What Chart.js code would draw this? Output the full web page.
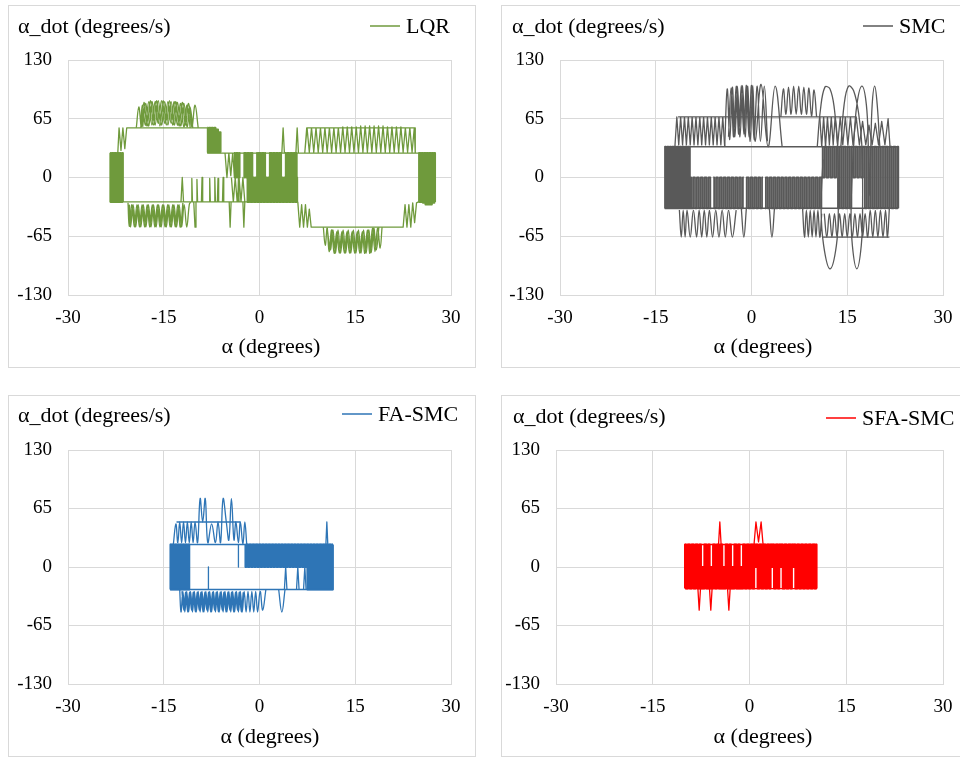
<!DOCTYPE html>
<html>
<head>
<meta charset="utf-8">
<script src="https://cdn.jsdelivr.net/npm/chart.js@4.4.1/dist/chart.umd.min.js"></script>
<style>
  html, body { margin: 0; padding: 0; background: #fff; width: 960px; height: 758px; overflow: hidden; position: relative; }
  canvas { position: absolute; }
</style>
</head>
<body>
<canvas id="lqr"></canvas>
<canvas id="smc"></canvas>
<canvas id="fasmc"></canvas>
<canvas id="sfasmc"></canvas>
<script>
// axis ticks and captions shared by the four phase portraits
const xTickValues = [-30, -15, 0, 15, 30];
const yTickValues = [-130, -65, 0, 65, 130];
const xCaption = 'α (degrees)';
const yCaption = 'α_dot (degrees/s)';

// trajectories, [alpha, alpha_dot]; null breaks the line.
// *Trace = straight strokes, *Waves = rounded oscillations, *Blocks = dense chattering (drawn stepped)
const lqrTrace = [
  [6.0,-27],[-23.4,-27],[-23.4,27],[-22.2,27],[-22.0,55],[-21.7,30],[-21.4,55],[-21.1,32],[-20.8,55],[-8.2,55], null,
  [-8.2,27],[27.5,27], null,
  [-12.3,-27],[-12.1,0],[-11.9,-27],[-10.7,-27],[-10.6,-1],[-10.5,-27],[-10.3,-27],[-10.1,-55],[-9.95,-27],[-9.9,-27],[-9.8,-2],[-9.7,-27],
  [-9.1,-27],[-9.0,0],[-8.9,-27],[-7.9,-27],[-7.8,-1],[-7.7,-27],[-7.1,-27],[-7.0,0],[-6.9,-27],[-6.6,-27],[-6.5,-1],[-6.4,-27],
  [-5.8,-27],[-5.7,0],[-5.6,-27],[-4.75,-27],[-4.6,-55],[-4.45,-27],[-3.4,-27],[-3.3,0],[-3.2,-27],[-2.6,-27],[-2.45,-55],[-2.3,-27], null,
  [-5.4,27],[-5.1,0],[-4.8,27],[-4.5,2],[-4.2,27],[-3.9,0], null,
  [-4.4,0],[-4.1,-27],[-3.8,0],[-3.5,-27],[-3.2,0],[-2.9,-27],[-2.6,0],[-2.3,-27], null,
  [6.0,-27],[6.3,-55],[6.6,-30],[6.9,-55],[7.2,-30],[7.5,-55],[7.8,-35],[8.1,-55],[22.5,-55],[22.8,-30],[23.1,-55],[23.4,-30],[23.7,-55],[24.0,-28],[24.3,-50],[24.6,-28],[24.9,-27],[27.5,-27], null,
  [24.4,27],[24.4,55],[7.4,55],[7.1,28],
  [7.45,55],[7.8,28],[8.15,55],[8.5,28],[8.85,55],[9.2,28],[9.55,55],[9.9,28],[10.25,55],[10.6,28],[10.95,55],[11.3,28],[11.65,55],[12.0,28],[12.35,55],[12.7,28],[13.05,56],[13.4,28],[13.75,56],[14.1,28],
  [14.45,56],[14.8,28],[15.15,56],[15.5,28],[15.85,57],[16.2,28],[16.55,57],[16.9,28],[17.25,57],[17.6,28],[17.95,57],[18.3,28],[18.65,57],[19.0,28],[19.35,57],[19.7,28],[20.05,56],[20.4,28],
  [20.75,56],[21.1,28],[21.45,56],[21.8,28],[22.15,56],[22.5,28],[22.85,55],[23.2,28],[23.55,55],[23.9,28],[24.25,55],[24.4,27], null,
  [6.1,27],[5.9,55],[5.7,27], null, [3.9,27],[3.7,55],[3.5,27]
];
const lqrWaves = [
  [-19.3,55],[-18.9,78],[-18.5,56],[-18.1,83],[-17.6,57],[-17.1,85],[-16.6,58],[-16.1,85],[-15.6,57],[-15.1,85],[-14.6,58],[-14.1,85],[-13.6,58],[-13.1,84],[-12.6,57],[-12.1,83],[-11.6,58],[-11.1,82],[-10.6,56],[-10.1,80],[-9.6,55], null,
  [-18.6,55],[-18.35,80],[-17.85,58],[-17.35,84],[-16.85,58],[-16.35,84],[-15.85,60],[-15.35,85],[-14.85,60],[-14.35,84],[-13.85,60],[-13.35,84],[-12.85,58],[-12.35,82],[-11.85,56],[-11.35,80],[-10.85,55], null,
  [-18.3,56],[-17.85,82],[-17.35,57],[-16.85,84],[-16.35,58],[-15.85,85],[-15.35,58],[-14.85,84],[-14.35,58],[-13.85,84],[-13.35,58],[-12.85,83],[-12.35,57],[-11.85,82],[-11.35,56],[-10.9,78],[-10.45,55], null,
  [-20.6,-28],[-20.4,-54],[-20.0,-30],[-19.6,-55],[-19.2,-30],[-18.8,-55],[-18.4,-30],[-18.0,-55],[-17.6,-30],[-17.2,-55],[-16.8,-30],[-16.4,-55],[-16.0,-30],[-15.6,-55],[-15.2,-30],[-14.8,-55],[-14.4,-30],[-14.0,-55],[-13.6,-30],[-13.2,-55],[-12.8,-30],[-12.4,-55],[-12.0,-28], null,
  [-20.4,-30],[-20.2,-55],[-19.8,-30],[-19.4,-55],[-19.0,-30],[-18.6,-55],[-18.2,-30],[-17.8,-55],[-17.4,-30],[-17.0,-55],[-16.6,-30],[-16.2,-55],[-15.8,-30],[-15.4,-55],[-15.0,-30],[-14.6,-55],[-14.2,-30],[-13.8,-55],[-13.4,-30],[-13.0,-55],[-12.6,-30],[-12.2,-55],[-11.8,-30],[-11.4,-55],[-11.0,-30],[-10.8,-27], null,
  [10.0,-55],[10.3,-75],[10.6,-56],[10.9,-82],[11.3,-58],[11.7,-84],[12.1,-60],[12.5,-84],[12.9,-60],[13.3,-84],[13.7,-60],[14.1,-84],[14.5,-60],[14.9,-84],[15.3,-60],[15.7,-84],[16.1,-60],[16.5,-84],[16.9,-58],[17.3,-84],[17.7,-56],[18.1,-82],[18.5,-56],[18.9,-78],[19.2,-55], null,
  [10.6,-56],[11.1,-80],[11.5,-58],[11.9,-84],[12.3,-58],[12.7,-84],[13.1,-58],[13.5,-84],[13.9,-58],[14.3,-84],[14.7,-58],[15.1,-84],[15.5,-58],[15.9,-84],[16.3,-58],[16.7,-84],[17.1,-58],[17.5,-83],[17.9,-56],[18.3,-80],[18.7,-55]
];
const lqrBlocks = [
  [-23.4,27],[-23.2,-27],[-23.0,27],[-22.8,-27],[-22.6,27],[-22.4,-27],[-22.2,27],[-22.0,-27],[-21.8,27],[-21.6,-27],[-21.4,27],[-21.4,-27], null,
  [-8.2,55],[-8.0,28],[-7.8,55],[-7.6,28],[-7.4,55],[-7.2,28],[-7.0,55],[-6.8,28],[-6.6,53],[-6.4,28],[-6.2,50],[-6.0,28], null,
  [-4.0,27],[-3.75,0],[-3.5,27],[-3.25,0],[-3.0,27], null,
  [-2.5,0],[-2.25,27],[-2.0,0],[-1.75,27],[-1.5,0],[-1.25,27],[-1.0,0], null,
  [-0.5,27],[-0.25,0],[0.0,27],[0.25,0],[0.5,27],[0.75,0],[1.0,27], null,
  [1.5,0],[1.75,27],[2.0,0],[2.25,27],[2.5,0],[2.75,27],[3.0,0],[3.25,27],[3.5,0], null,
  [4.0,27],[4.25,0],[4.5,27],[4.75,0],[5.0,27],[5.25,0],[5.5,27],[5.75,0],[5.9,27], null,
  [-2.0,0],[-1.75,-27],[-1.5,0],[-1.25,-27],[-1.0,0],[-0.75,-27],[-0.5,0],[-0.25,-27],[0.0,0],[0.25,-27],[0.5,0],[0.75,-27],[1.0,0],[1.25,-27],[1.5,0],[1.75,-27],[2.0,0],
  [2.25,-27],[2.5,0],[2.75,-27],[3.0,0],[3.25,-27],[3.5,0],[3.75,-27],[4.0,0],[4.25,-27],[4.5,0],[4.75,-27],[5.0,0],[5.25,-27],[5.5,0],[5.75,-27],[5.9,0],[5.9,-27], null,
  [24.9,-27],[25.1,27],[25.3,-27],[25.5,27],[25.7,-28],[25.9,27],[26.1,-30],[26.3,27],[26.5,-30],[26.7,27],[26.9,-30],[27.1,27],[27.3,-28],[27.5,27],[27.5,-27]
];

const smcTrace = [
  [-12.0,34],[-11.7,67],[-11.4,36],[-11.1,67],[-10.8,36],[-10.5,67],[-10.2,36],[-9.9,67],[-9.6,36],[-9.3,67],[-9.0,36],[-8.7,67],[-8.4,36],[-8.1,67],[-7.8,36],[-7.5,67],[-7.2,36],[-6.9,67],[-6.6,36],[-6.3,67],[-6.0,36],[-5.7,67],[-5.4,36],[-5.1,67],[-4.8,36],[-4.5,67],[-4.2,34], null,
  [10.7,67],[11.0,34],[11.3,67],[11.6,34],[11.9,67],[12.2,36],[12.5,67],[12.8,36],[13.1,67],[13.5,36],[13.9,67],[14.3,36],[14.7,67],[15.1,36],[15.5,67],[15.9,36],[16.4,67],[16.9,36],[17.4,62],[17.9,36],[18.4,58],[18.9,36],[19.4,60],[19.9,36],[20.4,62],[20.9,36],[21.4,65],[21.7,34], null,
  [-11.5,67],[16.4,67], null,
  [-13.6,34],[23.0,34], null,
  [-13.6,-34],[23.0,-34], null,
  [11.2,-66],[21.6,-66]
];
const smcWaves = [
  [-4.2,34],[-3.8,98],[-3.4,42],[-3.0,100],[-2.6,45],[-2.2,101],[-1.8,45],[-1.4,102],[-1.0,45],[-0.6,101],[-0.2,40],[0.2,102],[0.6,40],[1.5,103],[2.6,34],[3.7,101],[4.8,34], null,
  [-3.6,45],[-3.2,99],[-2.8,45],[-2.4,101],[-2.0,48],[-1.6,102],[-1.2,48],[-0.8,102],[-0.4,45],[0.0,102],[0.4,42],[0.9,101],[1.4,40],[2.0,101],[2.5,40], null,
  [4.6,67],[5.0,98],[5.4,70],[5.8,100],[6.2,70],[6.6,101],[7.0,70],[7.4,101],[7.8,70],[8.2,100],[8.6,70],[9.0,99],[9.4,68],[9.8,97],[10.2,67], null,
  [-11.3,-36],[-11.0,-66],[-10.7,-36],[-10.4,-66],[-10.1,-36],[-9.6,-66],[-9.1,-36],[-8.6,-66],[-8.2,-36],[-7.8,-66],[-7.4,-36],[-7.0,-66],[-6.6,-36],[-6.1,-66],[-5.6,-36],[-5.1,-66],[-4.6,-36],[-4.1,-66],[-3.6,-36],[-3.0,-66],[-2.4,-36], null,
  [-1.6,-34],[-1.2,-66],[-0.8,-34], null,
  [2.8,-34],[3.2,-66],[3.6,-34], null,
  [8.0,-34],[8.3,-66],[8.6,-36],[8.9,-66],[9.2,-36],[9.5,-66],[9.8,-36],[10.1,-66],[10.4,-36],[10.7,-66],[11.0,-40], null,
  [21.6,-34],[21.3,-66],[21.0,-36],[20.6,-66],[20.2,-36],[19.8,-66],[19.4,-36],[19.0,-66],[18.6,-36],[18.2,-66],[17.8,-40],[17.4,-66],[17.0,-40],[16.6,-66],[16.2,-40],[15.8,-66],[15.4,-40],[15.0,-66],[14.6,-40],[14.2,-66],[13.8,-40],[13.4,-66],[13.0,-40],[12.6,-66],[12.2,-40],[11.8,-66],[11.4,-40], null,
  [10.3,34],[10.8,75],[11.5,100],[12.3,98],[13.0,75],[13.5,34],[13.6,-34],[13.3,-75],[12.3,-101],[11.3,-75],[10.9,-34],[11.2,20], null,
  [14.0,34],[14.5,80],[15.2,101],[16.0,96],[16.8,70],[17.3,34],[17.4,-34],[17.2,-75],[16.5,-101],[15.8,-75],[15.6,-34],[16.0,34],[16.5,80],[17.3,101],[18.0,80],[18.3,34],[18.5,-20],[18.7,34],[18.9,80],[19.3,101],[19.7,80],[20.1,34]
];
const smcBlocks = [
  [-13.6,-34],[-13.5,34],[-13.3,-34],[-13.1,34],[-12.9,-34],[-12.7,34],[-12.5,-34],[-12.3,34],[-12.1,-34],[-11.9,34],[-11.7,-34],[-11.5,34],[-11.3,-34],[-11.1,34],[-10.9,-34],[-10.7,34],[-10.5,-34],[-10.3,34],[-10.1,-34],[-9.9,34],[-9.7,-34],[-9.6,34], null,
  [-9.6,0],[-9.3,-34],[-9.0,0],[-8.7,-34],[-8.4,0],[-8.1,-34],[-7.8,0],[-7.5,-34],[-7.2,0],[-6.9,-34],[-6.6,0],[-6.3,-34], null,
  [-6.0,0],[-5.7,-34],[-5.4,0],[-5.1,-34],[-4.8,0],[-4.5,-34],[-4.2,0],[-3.9,-34],[-3.6,0],[-3.3,-34],[-3.0,0],[-2.7,-34],[-2.4,0],[-2.1,-34],[-1.8,0],[-1.5,-34],[-1.2,0], null,
  [-0.9,-34],[-0.6,0],[-0.3,-34],[0.0,0],[0.3,-34],[0.6,0],[0.9,-34],[1.2,0],[1.5,-34],[1.8,0], null,
  [2.1,-34],[2.4,0],[2.7,-34],[3.0,0],[3.3,-34],[3.6,0],[3.9,-34],[4.2,0],[4.5,-34],[4.8,0],[5.1,-34],[5.4,0],[5.7,-34],[6.0,0],[6.3,-34],[6.6,0],[6.9,-34],[7.2,0],[7.5,-34],[7.8,0],
  [8.1,-34],[8.4,0],[8.7,-34],[9.0,0],[9.3,-34],[9.6,0],[9.9,-34],[10.2,0],[10.5,-34],[10.8,0],[11.1,-34], null,
  [11.0,34],[11.3,0],[11.6,34],[11.9,0],[12.2,34],[12.5,0],[12.8,34],[13.1,0],[13.4,34],[13.7,-34],[14.0,34],[14.3,-34],[14.6,34],[14.9,-34],[15.2,34],[15.5,-34],[15.8,34],[16.1,0],[16.4,34],[16.7,0],
  [17.0,34],[17.3,0],[17.6,34],[17.9,-34],[18.2,34],[18.5,-34],[18.8,34],[19.1,-34],[19.4,34],[19.7,-34],[20.0,34],[20.3,-34],[20.6,34],[20.9,-34],[21.2,34],[21.5,-34],[21.8,34],[22.1,-34],[22.4,34],[22.7,-34],[23.0,34],[23.0,-34]
];

const faTrace = [
  [-14.0,25],[11.5,25], null,
  [-14.0,-25],[11.5,-25], null,
  [-13.0,50],[-3.0,50], null,
  [-3.3,25],[-3.3,0], null,
  [-8.0,0],[-8.0,-25], null,
  [3.9,-25],[4.1,0],[4.3,-25], null,
  [5.8,-25],[6.0,0],[6.2,-25], null,
  [6.9,-25],[7.1,0],[7.3,-25], null,
  [10.4,25],[10.55,50],[10.7,25]
];
const faWaves = [
  [-2.0,25],[-2.3,50],[-2.6,25],[-3.0,50],[-3.3,27],[-3.7,50],[-4.0,30],[-4.4,76],[-4.8,30],[-5.2,50],[-5.7,76],[-6.1,27],[-6.5,50],[-6.9,27],[-7.5,48],[-8.1,27],
  [-8.5,76],[-8.9,50],[-9.3,76],[-9.7,27],[-10.1,50],[-10.4,27],[-10.7,50],[-11.0,27],[-11.3,50],[-11.6,27],[-11.9,50],[-12.2,27],[-12.5,50],[-12.8,27],[-13.1,48],[-13.5,25], null,
  [-12.5,-25],[-12.3,-50],[-12.0,-27],[-11.7,-50],[-11.4,-27],[-11.1,-50],[-10.8,-27],[-10.5,-50],[-10.2,-27],[-9.9,-50],[-9.6,-27],[-9.3,-50],[-9.0,-27],[-8.7,-50],[-8.4,-27],[-8.1,-50],
  [-7.8,-27],[-7.5,-50],[-7.2,-27],[-6.9,-50],[-6.6,-27],[-6.3,-50],[-6.0,-27],[-5.7,-50],[-5.4,-27],[-5.1,-50],[-4.8,-27],[-4.5,-50],[-4.2,-27],[-3.9,-50],[-3.6,-27],[-3.3,-50],
  [-3.0,-27],[-2.7,-50],[-2.4,-27],[-2.1,-50],[-1.8,-27],[-1.5,-50],[-1.2,-27],[-0.9,-50],[-0.6,-27],[-0.3,-50],[0.1,-27],[0.5,-48],[1.0,-25], null,
  [-12.15,-27],[-11.85,-48],[-11.55,-28],[-11.25,-50],[-10.95,-28],[-10.65,-48],[-10.35,-28],[-10.05,-50],[-9.75,-28],[-9.45,-48],[-9.15,-28],[-8.85,-50],[-8.55,-28],[-8.25,-48],[-7.95,-28],[-7.65,-50],
  [-7.35,-28],[-7.05,-48],[-6.75,-28],[-6.45,-50],[-6.15,-28],[-5.85,-48],[-5.55,-28],[-5.25,-50],[-4.95,-28],[-4.65,-48],[-4.35,-28],[-4.05,-50],[-3.75,-28],[-3.45,-48],[-3.15,-28],[-2.85,-50],[-2.55,-28], null,
  [3.0,-25],[3.5,-50],[4.0,-25]
];
const faBlocks = [
  [-14.0,-25],[-13.9,25],[-13.7,-25],[-13.5,25],[-13.3,-25],[-13.1,25],[-12.9,-25],[-12.7,25],[-12.5,-25],[-12.3,25],[-12.1,-25],[-11.9,25],[-11.7,-25],[-11.5,25],[-11.3,-25],[-11.1,25],[-10.9,-25], null,
  [11.5,25],[11.3,0],[11.05,25],[10.8,0],[10.55,25],[10.3,0],[10.05,25],[9.8,0],[9.55,25],[9.3,0],[9.05,25],[8.8,0],[8.55,25],[8.3,0],[8.05,25],[7.8,0],[7.55,25],[7.3,0],[7.05,25],[6.8,0],
  [6.55,25],[6.3,0],[6.05,25],[5.8,0],[5.55,25],[5.3,0],[5.05,25],[4.8,0],[4.55,25],[4.3,0],[4.05,25],[3.8,0],[3.55,25],[3.3,0],[3.05,25],[2.8,0],[2.55,25],[2.3,0],[2.05,25],[1.8,0],
  [1.55,25],[1.3,0],[1.05,25],[0.8,0],[0.55,25],[0.3,0],[0.05,25],[-0.2,0],[-0.45,25],[-0.7,0],[-0.95,25],[-1.2,0],[-1.45,25],[-1.7,0],[-1.95,25],[-2.2,0],[-2.2,25], null,
  [7.4,0],[7.6,-25],[7.8,0],[8.0,-25],[8.2,0],[8.4,-25],[8.6,0],[8.8,-25],[9.0,0],[9.2,-25],[9.4,0],[9.6,-25],[9.8,0],[10.0,-25],[10.2,0],[10.4,-25],[10.6,0],[10.8,-25],[11.0,0],[11.2,-25],[11.4,0],[11.5,-25],[11.5,25]
];

const sfaTrace = [
  [-4.8,25],[-4.6,50],[-4.4,25], null,
  [0.7,25],[1.0,50],[1.4,28],[1.8,50],[2.1,25], null,
  [-8.0,-24],[-7.8,-48],[-7.6,-24], null,
  [-6.2,-24],[-6.0,-48],[-5.8,-24], null,
  [-3.4,-24],[-3.2,-48],[-3.0,-24], null,
  [-10.0,25],[10.4,25], null,
  [-10.0,-24],[10.4,-24]
];
const sfaBlocks = [
  [-10.0,-24],[-10.0,25],[-9.7,-24],[-9.4,25],[-9.1,-24],[-8.8,25],[-8.5,-24],[-8.2,25],[-7.9,-24],[-7.6,25],
  [-7.45,-24],[-7.3,0],[-7.15,-24],[-6.85,25],[-6.55,-24],[-6.25,25],[-6.1,-24],[-5.95,0],[-5.8,-24],[-5.5,25],
  [-5.2,-24],[-4.9,25],[-4.6,-24],[-4.3,25],[-4.15,-24],[-4.0,0],[-3.85,-24],[-3.55,25],[-3.25,-24],[-2.95,25],
  [-2.8,-24],[-2.65,0],[-2.5,-24],[-2.2,25],[-1.9,-24],[-1.6,25],[-1.45,-24],[-1.3,0],[-1.15,-24],[-0.85,25],
  [-0.55,-24],[-0.25,25],[0.05,-24],[0.35,25],[0.65,-24],[0.8,25],[0.95,0],[1.1,25],[1.4,-24],[1.7,25],
  [2.0,-24],[2.3,25],[2.6,-24],[2.9,25],[3.2,-24],[3.35,25],[3.5,0],[3.65,25],[3.95,-24],[4.25,25],
  [4.55,-24],[4.7,25],[4.85,0],[5.0,25],[5.3,-24],[5.6,25],[5.9,-24],[6.2,25],[6.5,-24],[6.65,25],
  [6.8,0],[6.95,25],[7.25,-24],[7.55,25],[7.85,-24],[8.15,25],[8.45,-24],[8.75,25],[9.05,-24],[9.35,25],
  [9.65,-24],[9.95,25],[10.25,-24],[10.4,25],[10.4,-24]
];

// page layout of the four panels (box, plot area, caption / legend / axis title anchors)
const panels = [
  { id: 'lqr', label: 'LQR', color: '#6F9A3C', layers: [lqrTrace, lqrWaves, lqrBlocks], blockWidth: 2.0,
    box: [8, 5, 468, 363], plot: [68, 60, 451, 295], caption: [18, 27], legend: [370, 26], title: [271, 347] },
  { id: 'smc', label: 'SMC', color: '#595959', layers: [smcTrace, smcWaves, smcBlocks], blockWidth: 1.8,
    box: [501, 5, 475, 363], plot: [560, 60, 943, 295], caption: [512, 27], legend: [863, 26], title: [763, 347] },
  { id: 'fasmc', label: 'FA-SMC', color: '#2E75B6', layers: [faTrace, faWaves, faBlocks], blockWidth: 2.0,
    box: [8, 395, 468, 362], plot: [68, 450, 451, 684], caption: [18, 416], legend: [342, 414], title: [270, 737] },
  { id: 'sfasmc', label: 'SFA-SMC', color: '#FF0000', layers: [sfaTrace, [], sfaBlocks], blockWidth: 2.0,
    box: [501, 395, 475, 362], plot: [556, 450, 943, 684], caption: [513, 417], legend: [826, 418], title: [763, 737] },
];

const serif = '"Liberation Serif", "Times New Roman", serif';

const panelDecor = {
  id: 'panelDecor',
  afterDraw(chart, args, opts) {
    const ctx = chart.ctx;
    ctx.save();
    ctx.strokeStyle = '#d9d9d9';
    ctx.lineWidth = 1;
    ctx.strokeRect(0.5, 0.5, chart.width - 1, chart.height - 1);

    ctx.fillStyle = '#000';
    ctx.font = '22px ' + serif;
    ctx.textBaseline = 'middle';
    ctx.textAlign = 'left';
    ctx.fillText(yCaption, opts.caption[0], opts.caption[1]);

    ctx.strokeStyle = opts.color;
    ctx.lineWidth = 1.5;
    ctx.beginPath();
    ctx.moveTo(opts.legend[0], opts.legend[1]);
    ctx.lineTo(opts.legend[0] + 30, opts.legend[1]);
    ctx.stroke();
    ctx.fillText(opts.label, opts.legend[0] + 36, opts.legend[1] + 1);

    ctx.textAlign = 'center';
    ctx.fillText(xCaption, opts.title[0], opts.title[1]);
    ctx.restore();
  }
};

panels.forEach(p => {
  const [bx, by, bw, bh] = p.box;
  const canvas = document.getElementById(p.id);
  canvas.width = bw;
  canvas.height = bh;
  canvas.style.left = bx + 'px';
  canvas.style.top = by + 'px';
  const left = p.plot[0] - bx, top = p.plot[1] - by, right = p.plot[2] - bx, bottom = p.plot[3] - by;
  const local = pt => [pt[0] - bx, pt[1] - by];
  const tickFont = { family: serif, size: 19 };

  // trace, waves, blocks
  const styles = [
    { width: 1.3, tension: 0, stepped: false },
    { width: 1.3, tension: 0.4, stepped: false },
    { width: p.blockWidth, tension: 0, stepped: 'middle' },
  ];
  const datasets = p.layers.map((pts, i) => ({
    label: p.label,
    data: pts.map(pt => pt ? { x: pt[0], y: pt[1] } : { x: null, y: null }),
    showLine: true,
    spanGaps: false,
    borderColor: p.color,
    borderWidth: styles[i].width,
    borderJoinStyle: 'round',
    tension: styles[i].tension,
    stepped: styles[i].stepped,
    pointRadius: 0,
  }));

  new Chart(canvas, {
    type: 'scatter',
    data: { datasets },
    options: {
      responsive: false,
      animation: false,
      devicePixelRatio: 1,
      layout: { padding: { left: 0, top: top, right: bw - right, bottom: 0 } },
      plugins: {
        legend: { display: false },
        tooltip: { enabled: false },
        panelDecor: { caption: local(p.caption), legend: local(p.legend), title: local(p.title), label: p.label, color: p.color },
      },
      scales: {
        x: {
          type: 'linear', min: -30, max: 30,
          afterBuildTicks: s => { s.ticks = xTickValues.map(v => ({ value: v })); },
          afterFit: s => { s.height = bh - bottom; },
          grid: { color: '#d9d9d9', drawTicks: false },
          border: { color: '#d9d9d9' },
          ticks: { font: tickFont, color: '#000', padding: 12, maxRotation: 0 },
        },
        y: {
          type: 'linear', min: -130, max: 130,
          afterBuildTicks: s => { s.ticks = yTickValues.map(v => ({ value: v })); },
          afterFit: s => { s.width = left; },
          grid: { color: '#d9d9d9', drawTicks: false },
          border: { color: '#d9d9d9' },
          ticks: { font: tickFont, color: '#000', padding: 16 },
        }
      }
    },
    plugins: [panelDecor]
  });
});
</script>
</body>
</html>
